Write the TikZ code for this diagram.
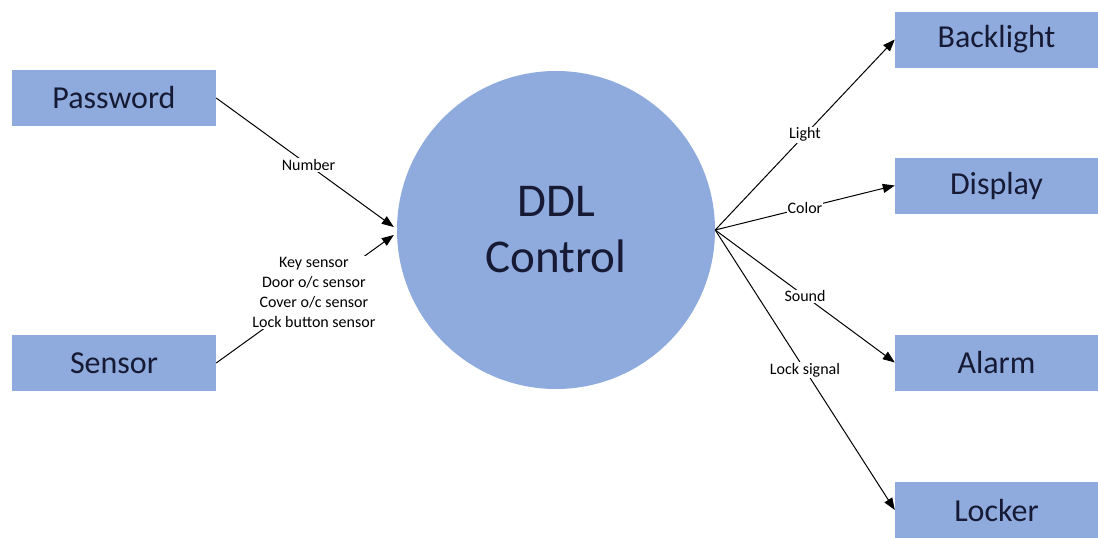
\documentclass[tikz,border=0pt]{standalone}
\usepackage{fontspec}
\setmainfont{Carlito}
\usepackage{tikz}
\usetikzlibrary{arrows.meta,positioning}
\definecolor{ddlblue}{RGB}{143,170,220}
\definecolor{ddltext}{RGB}{22,26,52}
\tikzset{block/.style={fill=ddlblue,text=ddltext,minimum width=204pt,minimum height=56pt,inner sep=0pt,font=\fontsize{32}{38}\selectfont},
flow/.style={draw=black,line width=1pt,-{Triangle[length=12pt,width=9pt]}},
lbl/.style={fill=white,inner sep=1pt,font=\fontsize{16}{20}\selectfont,text=black,align=center}}

\begin{document}
\begin{tikzpicture}[x=1pt,y=-1pt]
                \useasboundingbox (0,0) rectangle (1098,538);
                \node[circle,fill=ddlblue,text=ddltext,minimum size=318pt,align=center,
                    font=\fontsize{47}{56}\selectfont] (ddl) at (556,230) {DDL\\Control};
                \node[block] (password) at (114,98) {Password};
                \node[block] (sensor) at (114,363) {Sensor};
                \coordinate (numIn) at ([xshift=-3pt,yshift=3pt]ddl.west);
                \coordinate (sensIn) at ([xshift=-3pt,yshift=-5pt]ddl.west);
                \draw[flow] (password.east) -- node[lbl,pos=0.52] {Number} (numIn);
                \draw[flow] (sensor.east) -- node[lbl,pos=0.55] {Key sensor\\Door o/c sensor\\Cover o/c sensor\\Lock button sensor} (sensIn);
                \foreach \name/\txt/\sig/\y in {backlight/Backlight/Light/39.5,
                        display/Display/Color/185.5,
                        alarm/Alarm/Sound/362.5,
                        locker/Locker/Lock signal/510} {
                    \node[block,minimum width=203pt] (\name) at (996.5,\y) {\txt};
                    \draw[flow] (ddl.east) -- node[lbl,pos=0.5] {\sig} (\name.west);
                }
            \end{tikzpicture}
\end{document}
